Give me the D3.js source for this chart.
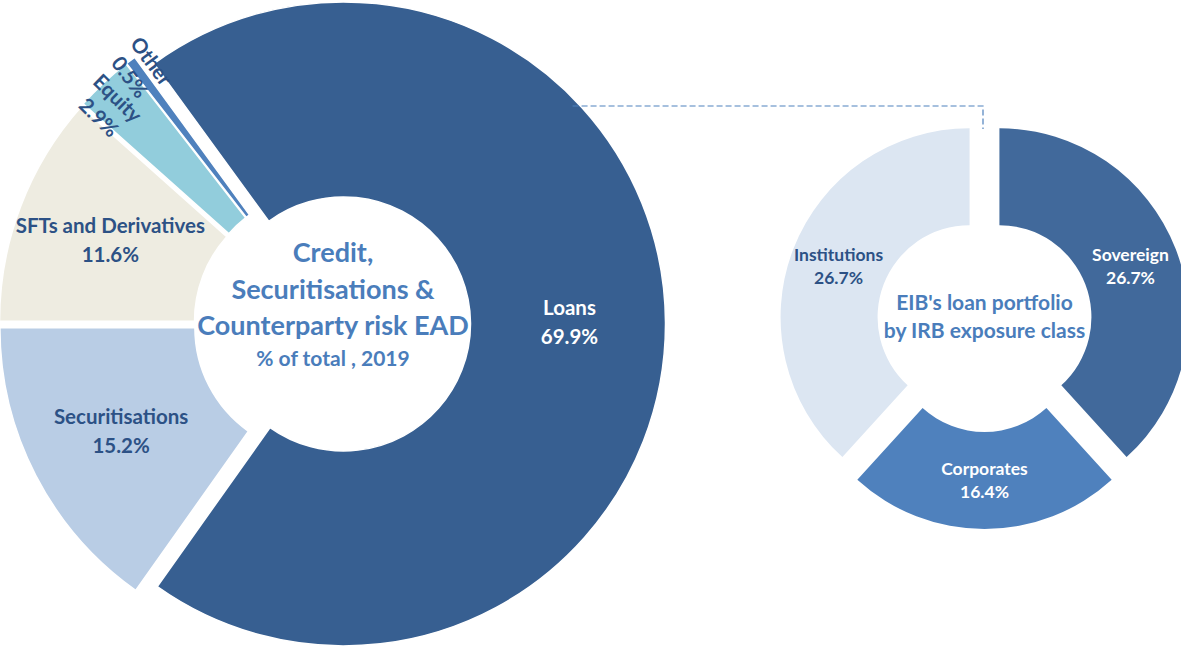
<!DOCTYPE html>
<html>
<head>
<meta charset="utf-8">
<script src="https://cdn.jsdelivr.net/npm/d3@7"></script>
<style>
  body { margin: 0; background: #fff; }
  svg { display: block; font-family: Lato, "Open Sans", sans-serif; font-weight: bold; }
</style>
</head>
<body>
<div id="chart"></div>
<script>
// EAD split, % of total 2019 (left donut)
const eadCategories = ["Loans", "Securitisations", "SFTs and Derivatives", "Equity", "Other"];
const eadValues = [69.9, 15.2, 11.6, 2.9, 0.5];
const eadTitle = ["Credit,", "Securitisations &", "Counterparty risk EAD"];
const eadSubtitle = "% of total , 2019";

// loan portfolio by IRB exposure class (right donut)
const loanCategories = ["Sovereign", "Corporates", "Institutions"];
const loanValues = [26.7, 16.4, 26.7];
const loanTitle = ["EIB's loan portfolio", "by IRB exposure class"];

const width = 1181, height = 648;
const fmt = v => d3.format(".1f")(v) + "%";

const svg = d3.select("#chart").append("svg")
    .attr("width", width)
    .attr("height", height)
    .attr("viewBox", [0, 0, width, height]);

// ---- left donut ----
const left = {
    cx: 329, cy: 324, outer: 322, inner: 127,
    colors: ["#375f91", "#b9cde5", "#eeece1", "#92cddc", "#4f81bd"],
    textColors: ["#ffffff", "#2c5185", "#2c5185", "#2c5185", "#2c5185"],
    explode: [14.5, 8, 8, 8, 8],
    labelRadius: 226
};

const eadTotal = d3.sum(eadValues);
// rotate so that the Securitisations / SFTs boundary sits at 9 o'clock
const leftStart = 1.5 * Math.PI - 2 * Math.PI * (eadValues[0] + eadValues[1]) / eadTotal;
const leftPie = d3.pie().sort(null).startAngle(leftStart).endAngle(leftStart + 2 * Math.PI);
const leftArcs = leftPie(eadValues);
const leftArc = d3.arc().innerRadius(left.inner).outerRadius(left.outer);

const shift = (d, e) => {
    const a = (d.startAngle + d.endAngle) / 2;
    return [Math.sin(a) * e, -Math.cos(a) * e];
};

const gl = svg.append("g").attr("transform", `translate(${left.cx},${left.cy})`);

gl.selectAll("path")
    .data(leftArcs)
    .join("path")
    .attr("transform", (d, i) => `translate(${shift(d, left.explode[i])})`)
    .attr("fill", (d, i) => left.colors[i])
    .attr("stroke", "#fff")
    .attr("stroke-width", 1.5)
    .attr("d", leftArc);

// labels inside the big slices
const bigLabels = leftArcs.slice(0, 3);
gl.selectAll("g.lab")
    .data(bigLabels)
    .join("g")
    .attr("class", "lab")
    .attr("transform", (d, i) => {
        const a = (d.startAngle + d.endAngle) / 2;
        const [ox, oy] = shift(d, left.explode[i]);
        return `translate(${ox + Math.sin(a) * left.labelRadius},${oy - Math.cos(a) * left.labelRadius})`;
    })
    .each(function(d, i) {
        const g = d3.select(this);
        [eadCategories[i], fmt(eadValues[i])].forEach((t, k) => {
            g.append("text")
                .attr("text-anchor", "middle")
                .attr("y", (k - 0.5) * 29 + 7)
                .attr("font-size", 20.5)
                .attr("fill", left.textColors[i])
                .text(t);
        });
    });

// rotated labels for the thin slices
const smallLabels = [
    { i: 3, da: -2.6, r: 309 },
    { i: 4, da: 0.4, r: 317 }
];
smallLabels.forEach(s => {
    const d = leftArcs[s.i];
    const deg = (d.startAngle + d.endAngle) / 2 * 180 / Math.PI + s.da;
    const a = deg * Math.PI / 180;
    const g = gl.append("g")
        .attr("transform", `translate(${Math.sin(a) * s.r},${-Math.cos(a) * s.r}) rotate(${deg - 270 - 360})`);
    [eadCategories[s.i], fmt(eadValues[s.i])].forEach((t, k) => {
        g.append("text")
            .attr("text-anchor", "middle")
            .attr("y", (k - 0.5) * 27 + 7)
            .attr("font-size", 20.5)
            .attr("fill", "#2c5185")
            .text(t);
    });
});

// centre title
const lt = svg.append("g").attr("transform", `translate(${left.cx + 4},0)`);
eadTitle.forEach((t, k) => {
    lt.append("text")
        .attr("text-anchor", "middle")
        .attr("y", 262 + k * 36.5)
        .attr("font-size", 27)
        .attr("fill", "#4a7dbb")
        .text(t);
});
lt.append("text")
    .attr("text-anchor", "middle")
    .attr("y", 366)
    .attr("font-size", 21)
    .attr("fill", "#4a7dbb")
    .text(eadSubtitle);

// ---- right donut ----
const right = {
    cx: 984.5, cy: 323, outer: 189, inner: 92,
    colors: ["#41699b", "#4f81bd", "#dce6f2"],
    textColors: ["#ffffff", "#ffffff", "#2c5185"],
    explode: [16, 17, 16]
};

const rightPie = d3.pie().sort(null);
const rightArcs = rightPie(loanValues);
const rightArc = d3.arc().innerRadius(right.inner).outerRadius(right.outer);

const gr = svg.append("g").attr("transform", `translate(${right.cx},${right.cy})`);

gr.selectAll("path")
    .data(rightArcs)
    .join("path")
    .attr("transform", (d, i) => `translate(${shift(d, right.explode[i])})`)
    .attr("fill", (d, i) => right.colors[i])
    .attr("d", rightArc);

gr.selectAll("g.lab")
    .data(rightArcs)
    .join("g")
    .attr("class", "lab")
    .attr("transform", (d, i) => {
        const [ox, oy] = shift(d, right.explode[i]);
        const [x, y] = rightArc.centroid(d);
        return `translate(${x + ox},${y + oy})`;
    })
    .each(function(d, i) {
        const g = d3.select(this);
        [loanCategories[i], fmt(loanValues[i])].forEach((t, k) => {
            g.append("text")
                .attr("text-anchor", "middle")
                .attr("y", (k - 0.5) * 23.5 + 6)
                .attr("font-size", 17.5)
                .attr("fill", right.textColors[i])
                .text(t);
        });
    });

loanTitle.forEach((t, k) => {
    svg.append("text")
        .attr("x", right.cx)
        .attr("y", 310 + k * 28)
        .attr("text-anchor", "middle")
        .attr("font-size", 21)
        .attr("fill", "#4a7dbb")
        .text(t);
});

// ---- dashed callout from Loans to the loan breakdown ----
const lineY = 106;
const loansCx = left.cx + shift(leftArcs[0], left.explode[0])[0];
const loansCy = left.cy + shift(leftArcs[0], left.explode[0])[1];
const startX = loansCx + Math.sqrt(left.outer ** 2 - (loansCy - lineY) ** 2) - 8;
const topY = right.cy - right.outer - 5;
svg.append("path")
    .attr("fill", "none")
    .attr("stroke", "#4f81bd")
    .attr("stroke-width", 1.2)
    .attr("stroke-dasharray", "6,3")
    .attr("d", d3.line()([[startX, lineY], [right.cx - 1.5, lineY], [right.cx - 1.5, topY]]));
</script>
</body>
</html>
